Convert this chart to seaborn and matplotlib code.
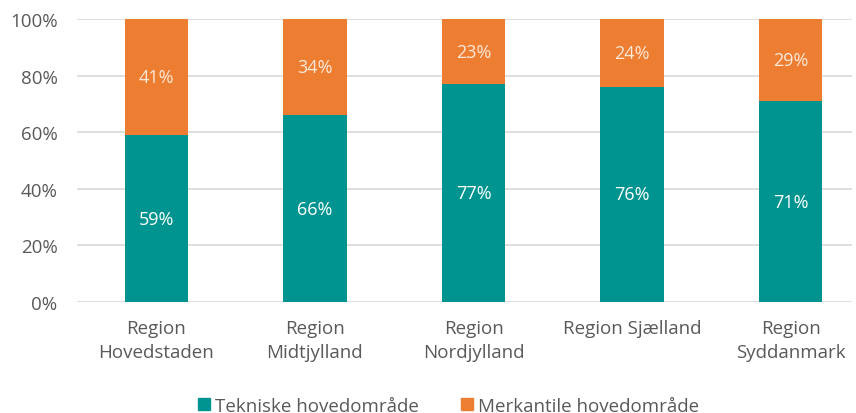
import matplotlib
matplotlib.use("Agg")
import matplotlib.pyplot as plt
import matplotlib.ticker as mticker
from matplotlib.patches import Patch
import pandas as pd
import seaborn as sns

sns.set_style("white")
plt.rcParams['font.family'] = ['Open Sans', 'DejaVu Sans']

regions = ["Region\nHovedstaden", "Region\nMidtjylland", "Region\nNordjylland",
           "Region Sjælland", "Region\nSyddanmark"]
tekniske = [59, 66, 77, 76, 71]
merkantile = [41, 34, 23, 24, 29]

teal = "#009490"
orange = "#ED7D31"
grey = "#595959"
fs = 13.5

df = pd.DataFrame({"region": regions, "tek": tekniske, "merk": merkantile})
df["total"] = df["tek"] + df["merk"]

fig = plt.figure(figsize=(8.56, 4.14), dpi=100)
ax = fig.add_axes([77 / 856, 111 / 414, 775 / 856, 283 / 414])

# stacked: full bar in orange, teal part on top of it
sns.barplot(data=df, x="region", y="total", color=orange, width=0.4,
            saturation=1, linewidth=0, ax=ax, zorder=2)
sns.barplot(data=df, x="region", y="tek", color=teal, width=0.4,
            saturation=1, linewidth=0, ax=ax, zorder=3)

for i, (t, m) in enumerate(zip(tekniske, merkantile)):
    ax.text(i, t / 2, f"{t}%", ha="center", va="center", color="white",
            fontsize=13, zorder=4)
    ax.text(i, t + m / 2, f"{m}%", ha="center", va="center", color="#FBE9DA",
            fontsize=13, zorder=4)

ax.set_ylim(0, 100)
ax.set_xlim(-0.5, -0.5 + 775 / 158.6)
ax.yaxis.set_major_locator(mticker.MultipleLocator(20))
ax.yaxis.set_major_formatter(mticker.FuncFormatter(lambda v, p: f"{v:.0f}%"))
ax.grid(axis="y", color="#D9D9D9", linewidth=1.2, zorder=0)
ax.set_axisbelow(True)
for s in ax.spines.values():
    s.set_visible(False)
ax.set_xlabel("")
ax.set_ylabel("")
ax.tick_params(axis="both", length=0, labelsize=fs, labelcolor=grey)
ax.tick_params(axis="x", pad=12)
ax.tick_params(axis="y", pad=14)
for lbl in ax.get_xticklabels():
    lbl.set_linespacing(1.45)

handles = [Patch(color=teal, label="Tekniske hovedområde"),
           Patch(color=orange, label="Merkantile hovedområde")]
fig.legend(handles=handles, loc="center", bbox_to_anchor=(0.524, 0.018),
           ncol=2, frameon=False, fontsize=fs, labelcolor=grey,
           handlelength=0.65, handleheight=0.65, handletextpad=0.3,
           columnspacing=2.2)

plt.savefig("out.png", dpi=100)
